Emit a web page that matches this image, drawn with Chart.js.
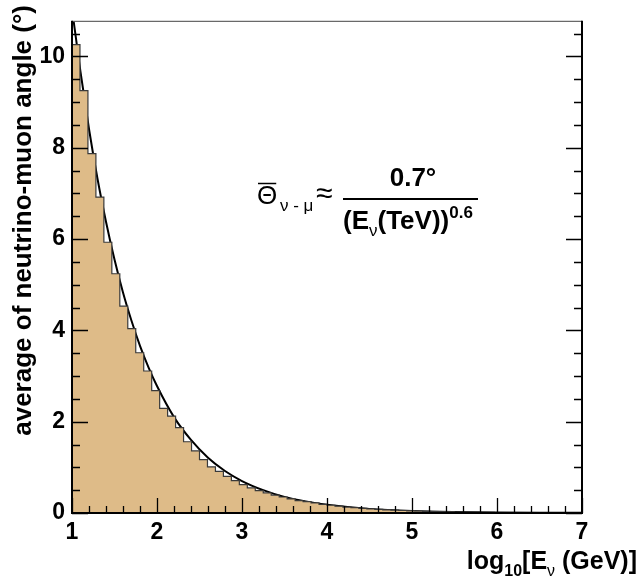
<!DOCTYPE html>
<html lang="en">
<head>
    <meta charset="UTF-8">
    <title>Neutrino-muon angle</title>
    <script src="https://cdn.jsdelivr.net/npm/chart.js"></script>
    <style>
        html, body { margin: 0; padding: 0; background: #fff; }
        #wrap { width: 639px; height: 582px; }
    </style>
</head>
<body>
    <div id="wrap"><canvas id="angleChart" width="639" height="582"></canvas></div>

    <script>
        // histogram: 64 bins of log10(E/GeV) between 1 and 7
        const histMin = 1;
        const histMax = 7;
        const histValues = [
            10.26, 9.25, 7.87, 6.92, 5.93, 5.24, 4.53, 4.04,
            3.51, 3.11, 2.68, 2.29, 2.12, 1.87, 1.56, 1.36,
            1.17, 1.01, 0.91, 0.80, 0.71, 0.62, 0.55, 0.49,
            0.44, 0.39, 0.35, 0.31, 0.27, 0.25, 0.22, 0.19,
            0.17, 0.15, 0.13, 0.115, 0.10, 0.09, 0.08, 0.07,
            0.062, 0.055, 0.048, 0.042, 0.037, 0.032, 0.028, 0.025,
            0.022, 0.019, 0.017, 0.015, 0.013, 0.011, 0.010, 0.009,
            0.008, 0.007, 0.006, 0.005, 0.005, 0.004, 0.004, 0.003
        ];

        // parametrisation curve 0.7 deg / (E(TeV))^0.6
        const curveX = [1.02, 1.05, 1.1, 1.2, 1.3, 1.4, 1.5, 1.6, 1.7, 1.8, 1.9, 2.0,
                        2.2, 2.4, 2.6, 2.8, 3.0, 3.25, 3.5, 3.75, 4.0, 4.5, 5.0, 5.5, 6.0, 6.5, 7.0];
        const curveY = [10.76, 10.35, 9.66, 8.41, 7.32, 6.38, 5.55, 4.83, 4.21, 3.66, 3.19, 2.78,
                        2.10, 1.60, 1.21, 0.92, 0.70, 0.50, 0.35, 0.25, 0.18, 0.09, 0.044, 0.022, 0.011, 0.005, 0.003];

        const xTickLabels = ['1', '2', '3', '4', '5', '6', '7'];
        const yTickLabels = ['0', '2', '4', '6', '8', '10'];
        const yMax = 10.78;

        const binWidth = (histMax - histMin) / histValues.length;
        const histPoints = histValues.map((v, i) => ({ x: histMin + i * binWidth, y: v }));
        histPoints.push({ x: histMax, y: histValues[histValues.length - 1] });

        const curvePoints = curveX.map((x, i) => ({ x: x, y: curveY[i] }));

        const FONT = '"Liberation Sans", Arial, Helvetica, sans-serif';

        // draw a run of text pieces: [text, font, dy]
        function drawRich(ctx, parts, x, y, align) {
            let total = 0;
            parts.forEach(p => { ctx.font = p[1]; total += ctx.measureText(p[0]).width; });
            let cx = align === 'right' ? x - total : (align === 'center' ? x - total / 2 : x);
            parts.forEach(p => {
                ctx.font = p[1];
                ctx.fillText(p[0], cx, y + (p[2] || 0));
                cx += ctx.measureText(p[0]).width;
            });
            return total;
        }

        const frameTicks = {
            id: 'frameTicks',
            afterDatasetsDraw(chart) {
                const ctx = chart.ctx;
                const a = chart.chartArea;
                const xs = chart.scales.x;
                const ys = chart.scales.y;
                ctx.save();

                // frame
                ctx.lineWidth = 1;
                ctx.strokeStyle = '#444';
                ctx.beginPath();
                ctx.moveTo(a.left, a.top + 0.5);
                ctx.lineTo(a.right, a.top + 0.5);
                ctx.stroke();
                ctx.strokeStyle = '#000';
                ctx.lineWidth = 2;
                ctx.beginPath();
                ctx.moveTo(a.left, a.top);
                ctx.lineTo(a.left, a.bottom);
                ctx.lineTo(a.right, a.bottom);
                ctx.lineTo(a.right, a.top);
                ctx.stroke();

                // ticks pointing inward
                ctx.lineWidth = 1.3;
                ctx.beginPath();
                for (let v = 0; v <= yMax + 1e-6; v += 0.5) {
                    const py = Math.round(ys.getPixelForValue(v)) + 0.5;
                    const len = (Math.abs(v % 2) < 1e-6) ? 16 : 8;
                    ctx.moveTo(a.left, py); ctx.lineTo(a.left + len, py);
                    ctx.moveTo(a.right, py); ctx.lineTo(a.right - len, py);
                }
                for (let k = 0; k <= 30; k++) {
                    const v = histMin + k * 0.2;
                    const px = Math.round(xs.getPixelForValue(v)) + 0.5;
                    const len = (k % 5 === 0) ? 15 : 7;
                    ctx.moveTo(px, a.bottom); ctx.lineTo(px, a.bottom - len);
                }
                ctx.stroke();

                ctx.fillStyle = '#000';
                ctx.textBaseline = 'alphabetic';

                // x title
                drawRich(ctx, [
                    ['log', 'bold 25px ' + FONT, 0],
                    ['10', 'bold 16px ' + FONT, 7],
                    ['[E', 'bold 25px ' + FONT, 0],
                    ['\u03bd', '16px ' + FONT, 7],
                    [' (GeV)]', 'bold 25px ' + FONT, 0]
                ], 637, 569, 'right');

                // y title
                ctx.save();
                ctx.translate(31, 5);
                ctx.rotate(-Math.PI / 2);
                ctx.font = 'bold 26px ' + FONT;
                ctx.textAlign = 'right';
                ctx.fillText('average of neutrino-muon angle (\u00b0)', 0, 0);
                ctx.restore();

                // formula
                ctx.font = '26px ' + FONT;
                ctx.fillText('\u0398', 257, 204);
                const thW = ctx.measureText('\u0398').width;
                ctx.lineWidth = 1.5;
                ctx.beginPath();
                ctx.moveTo(258, 183.5); ctx.lineTo(256 + thW, 183.5);
                ctx.stroke();
                ctx.font = '17px ' + FONT;
                ctx.fillText('\u03bd - \u03bc', 280, 211);
                ctx.font = '30px ' + FONT;
                ctx.fillText('\u2248', 316, 203);
                ctx.lineWidth = 2;
                ctx.beginPath();
                ctx.moveTo(343, 199); ctx.lineTo(478, 199);
                ctx.stroke();
                drawRich(ctx, [['0.7\u00b0', 'bold 26px ' + FONT, 0]], 413, 186, 'center');
                drawRich(ctx, [
                    ['(E', 'bold 26px ' + FONT, 0],
                    ['\u03bd', '17px ' + FONT, 7],
                    ['(TeV))', 'bold 26px ' + FONT, 0],
                    ['0.6', 'bold 17px ' + FONT, -11]
                ], 343, 229, 'left');

                ctx.restore();
            }
        };

        const angleChart = new Chart(document.getElementById('angleChart').getContext('2d'), {
            type: 'scatter',
            data: {
                datasets: [{
                    type: 'line',
                    label: 'mean angle',
                    data: histPoints,
                    stepped: 'before',
                    fill: 'origin',
                    backgroundColor: 'rgb(222, 187, 136)',
                    borderColor: '#3a3a3a',
                    borderWidth: 1.2,
                    pointRadius: 0
                }, {
                    type: 'line',
                    label: 'fit',
                    data: curvePoints,
                    borderColor: '#000',
                    borderWidth: 2,
                    cubicInterpolationMode: 'monotone',
                    fill: false,
                    pointRadius: 0
                }]
            },
            options: {
                responsive: false,
                animation: false,
                layout: { padding: { top: 2, right: 57, left: 0, bottom: 0 } },
                plugins: { legend: { display: false }, tooltip: { enabled: false } },
                scales: {
                    x: {
                        type: 'linear',
                        min: histMin,
                        max: histMax,
                        grid: { display: false, drawTicks: false },
                        border: { display: false },
                        afterFit(scale) { scale.height = 69; },
                        afterBuildTicks(scale) {
                            scale.ticks = xTickLabels.map(t => ({ value: Number(t) }));
                        },
                        ticks: {
                            padding: 6,
                            color: '#000',
                            font: { family: FONT, size: 23, weight: 'bold' },
                            maxRotation: 0,
                            callback: (v) => xTickLabels.includes(String(v)) ? String(v) : ''
                        }
                    },
                    y: {
                        min: 0,
                        max: yMax,
                        grid: { display: false, drawTicks: false },
                        border: { display: false },
                        afterFit(scale) { scale.width = 72; },
                        afterBuildTicks(scale) {
                            scale.ticks = yTickLabels.map(t => ({ value: Number(t) }));
                        },
                        ticks: {
                            padding: 7,
                            color: '#000',
                            font: { family: FONT, size: 23, weight: 'bold' },
                            callback: (v) => yTickLabels.includes(String(v)) ? String(v) : ''
                        }
                    }
                }
            },
            plugins: [frameTicks]
        });
    </script>
</body>
</html>
